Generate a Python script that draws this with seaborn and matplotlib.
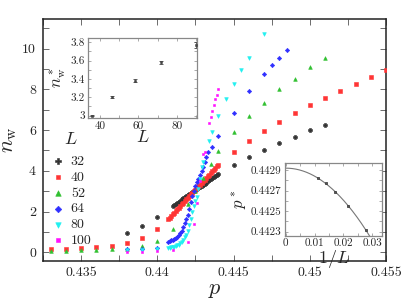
import numpy as np
import pandas as pd
import matplotlib
matplotlib.use("Agg")
import matplotlib.pyplot as plt
import seaborn as sns
from matplotlib.ticker import MultipleLocator, FuncFormatter

# ---------------- data ----------------
L_labels = ["32", "40", "52", "64", "80", "100"]

p32 = [0.438, 0.439, 0.440,
       0.4410, 0.4411, 0.4412, 0.4413, 0.4414, 0.4415, 0.4416, 0.4417, 0.4418, 0.4419,
       0.4420, 0.4421, 0.4422, 0.4423, 0.4424, 0.4425, 0.4426, 0.4427, 0.4428, 0.4429,
       0.4430, 0.4431, 0.4432, 0.4433, 0.4434, 0.4435, 0.4436, 0.4437, 0.4438, 0.4439, 0.4440,
       0.445, 0.446, 0.447, 0.448, 0.449, 0.450, 0.451]
n32 = [0.93, 1.27, 1.72,
       2.28, 2.33, 2.38, 2.44, 2.49, 2.54, 2.59, 2.64, 2.70, 2.75,
       2.80, 2.85, 2.90, 2.96, 3.01, 3.06, 3.11, 3.16, 3.22, 3.27,
       3.32, 3.37, 3.42, 3.48, 3.53, 3.58, 3.63, 3.68, 3.74, 3.79, 3.84,
       4.28, 4.66, 5.00, 5.37, 5.67, 5.98, 6.24]

p40 = [0.433, 0.434, 0.435, 0.436, 0.437, 0.438, 0.439, 0.440,
       0.4407, 0.4408, 0.4409, 0.4410, 0.4411, 0.4412, 0.4413, 0.4414, 0.4415, 0.4416,
       0.4417, 0.4418, 0.4419, 0.4420, 0.4421, 0.4422, 0.4423, 0.4424, 0.4425, 0.4426,
       0.4427, 0.4428, 0.4429, 0.4430, 0.4431, 0.4432, 0.4433, 0.4434, 0.4435, 0.4436,
       0.4437, 0.4438, 0.4439, 0.4440,
       0.445, 0.446, 0.447, 0.448, 0.449, 0.450, 0.451, 0.452, 0.453, 0.454, 0.455]
n40 = [0.15, 0.16, 0.21, 0.26, 0.33, 0.47, 0.72, 1.14,
       1.62, 1.70, 1.78, 1.86, 1.94, 2.03, 2.11, 2.19, 2.27, 2.35,
       2.43, 2.51, 2.59, 2.67, 2.76, 2.84, 2.92, 3.00, 3.08, 3.16,
       3.24, 3.32, 3.41, 3.49, 3.57, 3.65, 3.73, 3.81, 3.89, 3.97,
       4.05, 4.13, 4.21, 4.28,
       4.90, 5.46, 5.95, 6.39, 6.83, 7.22, 7.58, 7.94, 8.25, 8.58, 8.94]

p52 = [0.433, 0.434, 0.435, 0.436, 0.437, 0.438, 0.439, 0.440, 0.441, 0.442,
       0.4425, 0.4430, 0.4435, 0.444, 0.445, 0.446, 0.447, 0.448, 0.449, 0.450, 0.451]
n52 = [0.06, 0.06, 0.10, 0.10, 0.15, 0.15, 0.29, 0.55, 1.13, 2.35,
       3.00, 3.66, 4.32, 4.98, 5.90, 6.70, 7.32, 7.99, 8.51, 9.07, 9.56]

p64 = [0.438, 0.439, 0.440,
       0.4407, 0.4408, 0.4409, 0.4410, 0.4411, 0.4412, 0.4413, 0.4414, 0.4415, 0.4416,
       0.4417, 0.4418, 0.4419, 0.4420, 0.4421, 0.4422, 0.4423, 0.4424, 0.4425, 0.4426,
       0.4427, 0.4428, 0.4429, 0.4430, 0.4431, 0.4432, 0.4433,
       0.4436, 0.444, 0.445, 0.446, 0.447, 0.4475, 0.448, 0.4485]
n64 = [0.14, 0.16, 0.22,
       0.52, 0.55, 0.58, 0.62, 0.66, 0.71, 0.76, 0.83, 0.93, 1.05,
       1.22, 1.42, 1.62, 1.83, 2.12, 2.45, 2.78, 3.02, 3.25, 3.45,
       3.62, 3.80, 3.98, 4.17, 4.44, 4.70, 4.93,
       5.15, 5.72, 6.86, 7.91, 8.74, 9.17, 9.54, 9.92]

p80 = [0.438, 0.439, 0.440,
       0.4407, 0.4408, 0.4409, 0.4410, 0.4411, 0.4412, 0.4413, 0.4414, 0.4415, 0.4416,
       0.4417, 0.4418, 0.4419, 0.4420, 0.4421, 0.4422, 0.4423, 0.4424, 0.4425, 0.4426,
       0.4427, 0.4428, 0.4429, 0.4430,
       0.4434, 0.4436, 0.444, 0.4445, 0.445, 0.4455, 0.446, 0.447]
n80 = [0.10, 0.12, 0.15,
       0.20, 0.22, 0.24, 0.26, 0.28, 0.31, 0.34, 0.38, 0.44, 0.52,
       0.62, 0.73, 0.85, 1.05, 1.34, 1.65, 1.99, 2.25, 2.50, 2.73,
       3.10, 3.60, 4.17, 4.44,
       5.46, 5.88, 6.68, 7.53, 8.28, 8.94, 9.56, 10.69]

p100 = [0.438, 0.439, 0.440, 0.441, 0.4420, 0.4424, 0.4426, 0.4428, 0.4430, 0.4431,
        0.4434, 0.4435, 0.4436, 0.4437, 0.4438, 0.4439, 0.4440]
n100 = [0.02, 0.03, 0.05, 0.11, 0.49, 1.37, 2.43, 3.50, 4.80, 4.93,
        6.35, 6.62, 6.93, 7.24, 7.50, 7.73, 7.99]

# inset 1: crossing values n*_w vs L
L_mid = [36, 46, 58, 72, 90]
nw_star = [3.00, 3.20, 3.38, 3.58, 3.77]
nw_star_err = [0.01, 0.01, 0.015, 0.015, 0.03]

# inset 2: crossing points p* vs 1/L
p_star = [0.442315, 0.442553, 0.442683, 0.442771, 0.442819]
pstar_ticks = [0.4423, 0.4425, 0.4427, 0.4429]

main_xticks = [0.435, 0.44, 0.445, 0.45, 0.455]
main_yticks = [0, 2, 4, 6, 8, 10]

# ---------------- style ----------------
sns.set_theme(style="ticks")
plt.rcParams.update({
    "font.family": ["cmr10", "DejaVu Serif"],
    "mathtext.fontset": "cm",
    "axes.formatter.use_mathtext": True,
    "xtick.direction": "in",
    "ytick.direction": "in",
    "xtick.top": True,
    "ytick.right": True,
    "axes.unicode_minus": False,
})

colors = {"32": "#333333", "40": "#ff3535", "52": "#30c030",
          "64": "#3030ff", "80": "#20f0f0", "100": "#ff10ff"}
markers = {"32": "P", "40": "s", "52": "^", "64": "D", "80": "v", "100": "s"}
sizes = {"32": 7, "40": 5, "52": 7, "64": 5, "80": 7, "100": 4}

series = [("32", p32, n32), ("40", p40, n40), ("52", p52, n52),
          ("64", p64, n64), ("80", p80, n80), ("100", p100, n100)]
df = pd.concat([pd.DataFrame({"p": p, "n": n, "L": lab}) for lab, p, n in series],
               ignore_index=True)

fig = plt.figure(figsize=(4.06, 3.05), dpi=100)
ax = fig.add_axes([43 / 406, 1 - 261 / 305, (386 - 43) / 406, (261 - 19) / 305])

for lab, p, n in series:
    sub = df[df["L"] == lab]
    sns.scatterplot(data=sub, x="p", y="n", color=colors[lab], marker=markers[lab],
                    s=sizes[lab], linewidth=0.4, edgecolor=colors[lab], ax=ax,
                    label=lab, zorder=3)

ax.set_xlim(0.4325, 0.455)
ax.set_ylim(-0.43, 11.45)
ax.set_xticks(main_xticks)
ax.set_yticks(main_yticks)
ax.xaxis.set_minor_locator(MultipleLocator(0.0025))
ax.yaxis.set_minor_locator(MultipleLocator(1))
ax.xaxis.set_major_formatter(FuncFormatter(lambda v, _: f"{v:g}"))
ax.yaxis.set_major_formatter(FuncFormatter(lambda v, _: f"{v:g}"))
ax.tick_params(which="both", direction="in", top=True, right=True,
               length=4, width=0.6, color="#555555")
ax.tick_params(axis="both", which="major", labelsize=10)
ax.tick_params(axis="x", pad=4)
ax.tick_params(axis="y", pad=5)
for s in ax.spines.values():
    s.set_linewidth(1.1)
    s.set_color("#222222")
ax.set_xlabel("$p$", fontsize=16, labelpad=1)
ax.set_ylabel(r"$n_{\rm w}$", fontsize=16, labelpad=2)

h, l = ax.get_legend_handles_labels()
leg = ax.legend(h, l, title="$L$", loc="upper left",
                bbox_to_anchor=(50 / 406, 1 - 131 / 305), bbox_transform=fig.transFigure,
                frameon=False, fontsize=10, title_fontsize=13, handletextpad=0.3,
                labelspacing=0.22, handlelength=1.2, borderpad=0, borderaxespad=0,
                markerscale=1.5)
leg._legend_box.sep = 6

# ---------------- inset 1 ----------------
gray = "#888888"
ax1 = fig.add_axes([88.3 / 406, 1 - 118.3 / 305, (196.7 - 88.3) / 406, (118.3 - 38.3) / 305])
ax1.errorbar(L_mid, nw_star, yerr=nw_star_err, fmt="none", ecolor="#444444",
             elinewidth=0.6, capsize=1.5, capthick=0.6, zorder=2)
sns.scatterplot(x=L_mid, y=nw_star, marker="s", s=3, color="#444444",
                linewidth=0.4, edgecolor="#444444", ax=ax1, zorder=3)
ax1.set_xlim(33.9, 90.4)
ax1.set_ylim(2.97, 3.844)
ax1.xaxis.set_major_locator(MultipleLocator(20))
ax1.xaxis.set_minor_locator(MultipleLocator(10))
ax1.yaxis.set_major_locator(MultipleLocator(0.2))
ax1.yaxis.set_minor_locator(MultipleLocator(0.1))
ax1.xaxis.set_major_formatter(FuncFormatter(lambda v, _: f"{v:g}"))
ax1.yaxis.set_major_formatter(FuncFormatter(lambda v, _: f"{v:g}"))
ax1.tick_params(which="both", direction="in", top=True, right=True,
                length=2.5, width=0.5, color=gray, labelsize=8)
ax1.tick_params(axis="x", pad=2)
ax1.tick_params(axis="y", pad=2.5)
for s in ax1.spines.values():
    s.set_linewidth(0.9)
    s.set_color(gray)
ax1.set_xlabel("$L$", fontsize=13, labelpad=-1)
ax1.set_ylabel(r"$n^*_{\rm w}$", fontsize=12, labelpad=1)

# ---------------- inset 2 ----------------
ax2 = fig.add_axes([285 / 406, 1 - 236 / 305, (381.7 - 285) / 406, (236 - 163.3) / 305])
inv_L = 1.0 / np.array(L_mid, dtype=float)
A = np.vstack([np.ones_like(inv_L), inv_L ** 2]).T
coef, *_ = np.linalg.lstsq(A, np.array(p_star), rcond=None)
xs = np.linspace(0, 0.0296, 200)
sns.lineplot(x=xs, y=coef[0] + coef[1] * xs ** 2, color="#777777", linewidth=0.8, ax=ax2)
sns.scatterplot(x=inv_L, y=p_star, marker="s", s=4, color="#555555",
                linewidth=0.5, edgecolor="#333333", ax=ax2, zorder=3)
ax2.set_xlim(-0.0003, 0.0333)
ax2.set_ylim(0.442258, 0.442965)
ax2.set_yticks(pstar_ticks)
ax2.xaxis.set_major_locator(MultipleLocator(0.01))
ax2.xaxis.set_minor_locator(MultipleLocator(0.005))
ax2.yaxis.set_minor_locator(MultipleLocator(0.0001))
ax2.xaxis.set_major_formatter(FuncFormatter(lambda v, _: f"{round(v, 4):g}"))
ax2.yaxis.set_major_formatter(FuncFormatter(lambda v, _: f"{round(v, 5):g}"))
ax2.tick_params(which="both", direction="in", top=True, right=True,
                length=2.5, width=0.5, color=gray, labelsize=8)
ax2.tick_params(axis="x", pad=1.5)
ax2.tick_params(axis="y", pad=2.5)
for s in ax2.spines.values():
    s.set_linewidth(0.9)
    s.set_color(gray)
ax2.set_xlabel("$1/L$", fontsize=13, labelpad=0)
ax2.set_ylabel("$p^*$", fontsize=12, labelpad=1)

fig.savefig("out.png", dpi=100)
